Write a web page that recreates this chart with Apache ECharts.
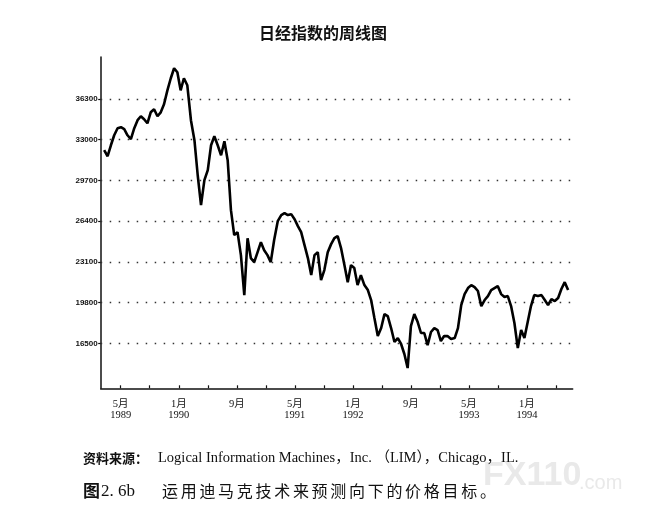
<!DOCTYPE html>
<html>
<head>
<meta charset="utf-8">
<script src="https://cdn.jsdelivr.net/npm/echarts@6/dist/echarts.min.js"></script>
<style>html,body{margin:0;padding:0;background:#fff;}#c{width:662px;height:528px;}</style>
</head>
<body>
<div id="c"></div>
<script>
// Nikkei weekly closes (every 2 weeks from 1989-02-21)
const startDate = '1989-02-21';
const stepDays = 14;
const values = [
 32150,31660,32550,33360,33930,34010,33850,33360,33040,33930,
 34580,34900,34660,34330,35220,35470,34900,35220,35870,37000,
 37980,38790,38460,37000,37980,37410,34580,32960,30120,27700,
 29720,30530,32550,33280,32550,31740,32880,31340,27290,25270,
 25510,23650,20410,25020,23410,23080,23890,24700,24050,23650,
 23080,24860,26400,26890,27050,26890,26970,26560,26000,25510,
 24460,23410,22030,23650,23890,21630,22440,23890,24540,25020,
 25190,24220,22840,21460,22840,22600,21220,22030,21220,20820,
 20010,18550,17090,17740,18870,18710,17740,16610,16930,16450,
 15640,14500,17900,18870,18230,17340,17340,16360,17420,17740,
 17580,16690,17090,17090,16850,16930,17740,19600,20490,20980,
 21220,21060,20740,19520,20010,20330,20820,20980,21140,20490,
 20250,20330,19520,18150,16120,17580,16930,18230,19520,20410,
 20330,20410,20010,19600,20090,19930,20170,20900,21460,20820
];
// y-axis tick labels
const yTicks = [16500, 19800, 23100, 26400, 29700, 33000, 36300];
// x-axis: months counted from Jan 1989 = 0
const xTickMonths = [4,8,12,16,20,24,28,32,36,40,44,48,52,56,60,64];
const xLabelMonths = [4,12,20,28,36,44,52,60];
const xLabels = ['5月\n1989','1月\n1990','9月','5月\n1991','1月\n1992','9月','5月\n1993','1月\n1994'];
const titleText = '日经指数的周线图';
const sourceHead = '资料来源：';
const sourceText = 'Logical Information Machines，Inc. （LIM），Chicago，IL.';
const figNo = '2. 6b';
const figCaption = '运用迪马克技术来预测向下的价格目标。';

function toMonth(d){
  const y = d.getUTCFullYear(), m = d.getUTCMonth();
  const dim = new Date(Date.UTC(y, m + 1, 0)).getUTCDate();
  return (y - 1989) * 12 + m + (d.getUTCDate() - 1) / dim;
}
const t0 = Date.parse(startDate + 'T00:00:00Z');
const seriesData = values.map((v, i) => [toMonth(new Date(t0 + i * stepDays * 86400000)), v]);

const captionChars = Array.from(figCaption).map((ch, i) => ({
  type: 'text', x: 162 + i * 18.7, y: 491, z: 5,
  style: {text: ch, font: '16px "Noto Sans CJK SC"', fill: '#111', align: 'left', verticalAlign: 'middle'}
}));

const chart = echarts.init(document.getElementById('c'), null, {renderer: 'canvas'});
chart.setOption({
  backgroundColor: '#fff',
  animation: false,
  grid: {left: 100.7, top: 57, right: 89.3, bottom: 139.7, containLabel: false},
  xAxis: {
    type: 'value', min: 1.24, max: 66.3,
    axisLine: {show: true, lineStyle: {color: '#111', width: 1.5}},
    axisTick: {show: true, inside: true, length: 3, customValues: xTickMonths, lineStyle: {color: '#111', width: 1.2}},
    axisLabel: {
      show: true, customValues: xLabelMonths, margin: 10,
      formatter: v => { const i = xLabelMonths.indexOf(Math.round(v)); return i >= 0 ? xLabels[i] : ''; },
      fontFamily: '"Liberation Serif", "Noto Sans CJK SC", serif', fontSize: 10.5, color: '#111', lineHeight: 11
    },
    splitLine: {show: false}
  },
  yAxis: {
    type: 'value', min: 12860, max: 39700,
    axisLine: {show: true, lineStyle: {color: '#111', width: 1.5}},
    axisTick: {show: true, length: 2.5, customValues: yTicks, lineStyle: {color: '#111', width: 1.2}},
    axisLabel: {show: true, customValues: yTicks, margin: 3, formatter: v => String(v),
      fontFamily: '"Liberation Sans", sans-serif', fontWeight: 'bold', fontSize: 8, color: '#111'},
    splitLine: {show: false}
  },
  series: [{
    type: 'line', data: seriesData, showSymbol: false, symbol: 'none',
    lineStyle: {color: '#000', width: 2.6}, silent: true, z: 3,
    markLine: {
      silent: true, symbol: 'none', label: {show: false},
      lineStyle: {color: '#333', width: 1.3, type: [1.5, 7.5]},
      data: yTicks.map(v => ({yAxis: v})), z: 1
    }
  }],
  graphic: [
    {type: 'text', x: 323, y: 33, style: {text: titleText, font: 'bold 16px "Noto Sans CJK SC"', fill: '#111', align: 'center', verticalAlign: 'middle'}},
    {type: 'text', x: 483, y: 476, z: 0, style: {text: 'FX110', font: 'bold 34px "Liberation Sans"', fill: '#e9e9e9', align: 'left', verticalAlign: 'middle'}},
    {type: 'text', x: 579, y: 483, z: 0, style: {text: '.com', font: '20px "Liberation Sans"', fill: '#e9e9e9', align: 'left', verticalAlign: 'middle'}},
    {type: 'text', x: 83, y: 458, z: 5, style: {text: sourceHead, font: 'bold 13px "Noto Sans CJK SC"', fill: '#111', align: 'left', verticalAlign: 'middle'}},
    {type: 'text', x: 158, y: 458, z: 5, style: {text: sourceText, font: '14.5px "Liberation Serif", "Noto Sans CJK SC"', fill: '#111', align: 'left', verticalAlign: 'middle'}},
    {type: 'text', x: 83, y: 491, z: 5, style: {text: '图', font: 'bold 17px "Noto Sans CJK SC"', fill: '#111', align: 'left', verticalAlign: 'middle'}},
    {type: 'text', x: 101, y: 492, z: 5, style: {text: figNo, font: '17px "Liberation Serif"', fill: '#111', align: 'left', verticalAlign: 'middle'}}
  ].concat(captionChars)
});
</script>
</body>
</html>
